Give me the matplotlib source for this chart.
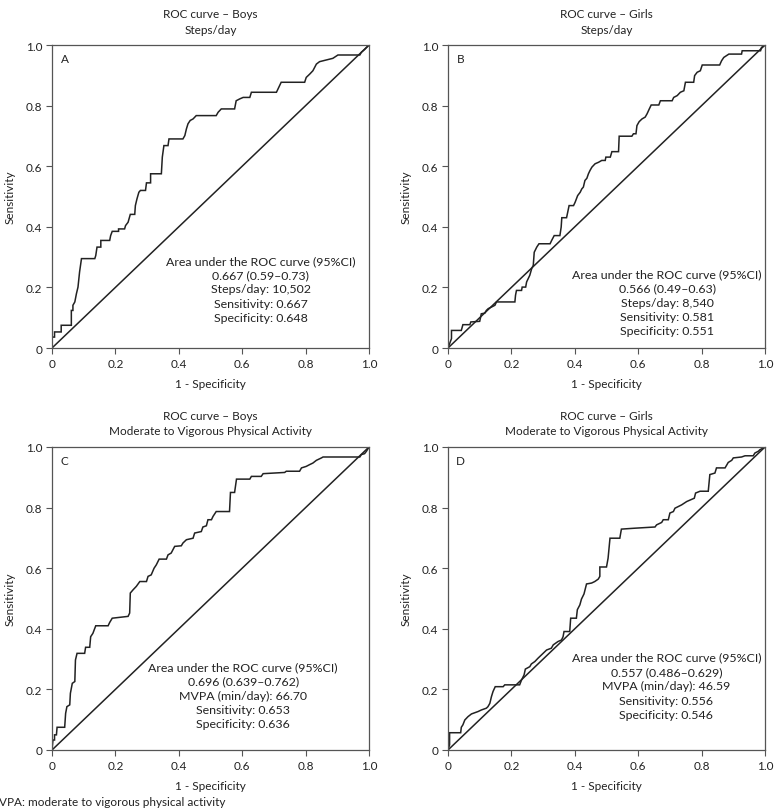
import matplotlib
import matplotlib.pyplot as plt

matplotlib.use("Agg")

plt.rcParams["font.family"] = ["Lato", "DejaVu Sans"]

# ROC curve vertices (1 - specificity, sensitivity)
fpr_a = [0, 0, 0.008, 0.008, 0.029, 0.029, 0.061, 0.061, 0.066, 0.066, 0.072, 0.077, 0.082, 0.087,
         0.093, 0.135, 0.138, 0.142, 0.154, 0.154, 0.182, 0.185, 0.190, 0.210, 0.210, 0.229, 0.232,
         0.240, 0.247, 0.261, 0.263, 0.268, 0.274, 0.279, 0.295, 0.298, 0.311, 0.311, 0.345, 0.348,
         0.353, 0.366, 0.369, 0.413, 0.419, 0.424, 0.429, 0.436, 0.445, 0.455, 0.518, 0.524, 0.534,
         0.576, 0.581, 0.592, 0.603, 0.624, 0.629, 0.708, 0.713, 0.723, 0.797, 0.802, 0.813, 0.823,
         0.834, 0.844, 0.886, 0.902, 0.971, 0.976, 0.986, 1]
tpr_a = [0, 0.036, 0.036, 0.053, 0.053, 0.075, 0.075, 0.124, 0.124, 0.141, 0.152, 0.179, 0.201, 0.251,
         0.295, 0.295, 0.305, 0.333, 0.333, 0.355, 0.355, 0.371, 0.385, 0.385, 0.393, 0.393, 0.404,
         0.415, 0.441, 0.441, 0.470, 0.492, 0.514, 0.520, 0.520, 0.545, 0.545, 0.575, 0.575, 0.630,
         0.668, 0.668, 0.690, 0.690, 0.701, 0.723, 0.740, 0.751, 0.756, 0.767, 0.767, 0.778, 0.789,
         0.789, 0.816, 0.822, 0.827, 0.827, 0.844, 0.844, 0.855, 0.877, 0.877, 0.893, 0.904, 0.915,
         0.937, 0.945, 0.956, 0.967, 0.967, 0.976, 0.985, 1]

fpr_b = [0, 0.005, 0.011, 0.011, 0.042, 0.047, 0.069, 0.072, 0.100, 0.103, 0.105, 0.116, 0.121, 0.127,
         0.137, 0.148, 0.153, 0.211, 0.213, 0.216, 0.232, 0.234, 0.245, 0.248, 0.253, 0.258, 0.264,
         0.269, 0.272, 0.280, 0.287, 0.322, 0.327, 0.335, 0.353, 0.357, 0.359, 0.374, 0.382, 0.396,
         0.401, 0.409, 0.417, 0.422, 0.427, 0.432, 0.438, 0.443, 0.448, 0.454, 0.464, 0.475, 0.485,
         0.496, 0.498, 0.512, 0.517, 0.538, 0.540, 0.580, 0.585, 0.593, 0.596, 0.603, 0.612, 0.622,
         0.628, 0.635, 0.641, 0.665, 0.670, 0.707, 0.712, 0.723, 0.733, 0.744, 0.749, 0.775, 0.778,
         0.786, 0.796, 0.802, 0.857, 0.863, 0.870, 0.886, 0.926, 0.928, 0.986, 0.989, 1]
tpr_b = [0, 0.014, 0.031, 0.058, 0.058, 0.077, 0.077, 0.086, 0.088, 0.102, 0.113, 0.115, 0.124, 0.130,
         0.135, 0.141, 0.152, 0.152, 0.174, 0.190, 0.190, 0.201, 0.201, 0.218, 0.229, 0.240, 0.262,
         0.273, 0.316, 0.333, 0.344, 0.344, 0.355, 0.371, 0.371, 0.399, 0.430, 0.430, 0.470, 0.470,
         0.481, 0.503, 0.514, 0.525, 0.531, 0.553, 0.560, 0.575, 0.586, 0.597, 0.608, 0.613, 0.619,
         0.619, 0.630, 0.630, 0.648, 0.648, 0.699, 0.699, 0.707, 0.707, 0.734, 0.747, 0.756, 0.762,
         0.773, 0.789, 0.802, 0.802, 0.816, 0.816, 0.827, 0.833, 0.844, 0.849, 0.877, 0.877, 0.899,
         0.910, 0.915, 0.934, 0.934, 0.948, 0.959, 0.970, 0.970, 0.981, 0.981, 0.992, 1]

fpr_c = [0, 0.003, 0.008, 0.008, 0.014, 0.016, 0.040, 0.043, 0.047, 0.056, 0.058, 0.064, 0.072, 0.074,
         0.079, 0.103, 0.106, 0.119, 0.122, 0.129, 0.138, 0.177, 0.182, 0.190, 0.240, 0.245, 0.247,
         0.256, 0.266, 0.277, 0.298, 0.303, 0.313, 0.322, 0.329, 0.338, 0.361, 0.366, 0.376, 0.387,
         0.408, 0.413, 0.424, 0.445, 0.450, 0.471, 0.476, 0.487, 0.492, 0.503, 0.508, 0.518, 0.560,
         0.563, 0.576, 0.582, 0.624, 0.629, 0.660, 0.666, 0.734, 0.739, 0.781, 0.787, 0.802, 0.813,
         0.823, 0.834, 0.850, 0.855, 0.971, 0.976, 0.986, 0.992, 1]
tpr_c = [0, 0.033, 0.033, 0.050, 0.050, 0.075, 0.075, 0.121, 0.143, 0.149, 0.187, 0.220, 0.226, 0.297,
         0.319, 0.319, 0.339, 0.339, 0.374, 0.385, 0.410, 0.410, 0.421, 0.435, 0.441, 0.452, 0.518,
         0.529, 0.540, 0.556, 0.556, 0.573, 0.578, 0.600, 0.611, 0.630, 0.630, 0.644, 0.650, 0.672,
         0.674, 0.683, 0.694, 0.699, 0.716, 0.721, 0.736, 0.740, 0.760, 0.760, 0.771, 0.787, 0.787,
         0.850, 0.850, 0.894, 0.894, 0.903, 0.903, 0.912, 0.916, 0.920, 0.920, 0.931, 0.936, 0.942,
         0.947, 0.956, 0.964, 0.967, 0.967, 0.975, 0.978, 0.986, 1]

fpr_d = [0, 0.005, 0.005, 0.040, 0.042, 0.047, 0.053, 0.063, 0.074, 0.095, 0.105, 0.121, 0.126, 0.132,
         0.137, 0.142, 0.149, 0.174, 0.179, 0.226, 0.232, 0.240, 0.244, 0.258, 0.263, 0.274, 0.284,
         0.300, 0.311, 0.326, 0.332, 0.347, 0.358, 0.363, 0.366, 0.384, 0.387, 0.405, 0.408, 0.416,
         0.421, 0.429, 0.437, 0.453, 0.463, 0.474, 0.479, 0.479, 0.500, 0.505, 0.511, 0.542, 0.547,
         0.589, 0.653, 0.658, 0.674, 0.679, 0.695, 0.700, 0.711, 0.716, 0.737, 0.753, 0.777, 0.781,
         0.795, 0.821, 0.826, 0.842, 0.847, 0.874, 0.884, 0.895, 0.900, 0.926, 0.937, 0.963, 0.968,
         0.979, 0.984, 1]
tpr_d = [0, 0.017, 0.057, 0.057, 0.075, 0.083, 0.099, 0.110, 0.119, 0.127, 0.132, 0.138, 0.143, 0.154,
         0.176, 0.193, 0.209, 0.209, 0.215, 0.215, 0.231, 0.248, 0.267, 0.275, 0.284, 0.292, 0.303,
         0.319, 0.330, 0.336, 0.347, 0.358, 0.363, 0.374, 0.391, 0.391, 0.435, 0.435, 0.463, 0.479,
         0.498, 0.515, 0.548, 0.551, 0.556, 0.564, 0.573, 0.604, 0.604, 0.633, 0.699, 0.699, 0.729,
         0.732, 0.736, 0.743, 0.751, 0.760, 0.760, 0.782, 0.787, 0.798, 0.809, 0.820, 0.831, 0.848,
         0.854, 0.854, 0.909, 0.914, 0.931, 0.931, 0.949, 0.956, 0.964, 0.967, 0.971, 0.971, 0.980,
         0.986, 0.991, 1]

titles = [
    "ROC curve – Boys\nSteps/day",
    "ROC curve – Girls\nSteps/day",
    "ROC curve – Boys\nModerate to Vigorous Physical Activity",
    "ROC curve – Girls\nModerate to Vigorous Physical Activity",
]
letters = ["A", "B", "C", "D"]
notes = [
    ["Area under the ROC curve (95%CI)", "0.667 (0.59–0.73)", "Steps/day: 10,502",
     "Sensitivity: 0.667", "Specificity: 0.648"],
    ["Area under the ROC curve (95%CI)", "0.566 (0.49–0.63)", "Steps/day: 8,540",
     "Sensitivity: 0.581", "Specificity: 0.551"],
    ["Area under the ROC curve (95%CI)", "0.696 (0.639–0.762)", "MVPA (min/day): 66.70",
     "Sensitivity: 0.653", "Specificity: 0.636"],
    ["Area under the ROC curve (95%CI)", "0.557 (0.486–0.629)", "MVPA (min/day): 46.59",
     "Sensitivity: 0.556", "Specificity: 0.546"],
]
note_x = [0.658, 0.691, 0.603, 0.689]
note_top = [0.289, 0.245, 0.275, 0.306]
curves = [(fpr_a, tpr_a), (fpr_b, tpr_b), (fpr_c, tpr_c), (fpr_d, tpr_d)]

ticks = [0, 0.2, 0.4, 0.6, 0.8, 1.0]
tick_labels = ["0", "0.2", "0.4", "0.6", "0.8", "1.0"]

W, H = 778, 812
fig = plt.figure(figsize=(W / 100, H / 100), dpi=100)
boxes = [(52, 46), (448, 46), (52, 448), (448, 448)]
ink = "#222222"
spine = "#555555"

for i, (x0, y0) in enumerate(boxes):
    ax = fig.add_axes([x0 / W, 1 - (y0 + 303) / H, 317 / W, 303 / H])
    fpr, tpr = curves[i]
    ax.plot([0, 1], [0, 1], color=ink, lw=1.1, solid_capstyle="butt")
    ax.plot(fpr, tpr, color=ink, lw=1.1, solid_joinstyle="miter")
    ax.set_xlim(0, 1)
    ax.set_ylim(0, 1)
    ax.set_xticks(ticks)
    ax.set_xticklabels(tick_labels)
    ax.set_yticks(ticks)
    ax.set_yticklabels(tick_labels)
    ax.tick_params(direction="out", length=4, width=0.8, color=spine,
                   labelsize=8.5, labelcolor=ink, pad=3)
    for s in ax.spines.values():
        s.set_color(spine)
        s.set_linewidth(0.9)
    ax.set_title(titles[i], fontsize=8.5, color=ink, pad=9, linespacing=1.45)
    ax.set_xlabel("1 - Specificity", fontsize=8.5, color=ink, labelpad=7)
    ax.set_ylabel("Sensitivity", fontsize=8.5, color=ink, labelpad=7)
    ax.text(0.04, 0.954, letters[i], transform=ax.transAxes, fontsize=8.5,
            color=ink, ha="center", va="center")
    for j, line in enumerate(notes[i]):
        ax.text(note_x[i], note_top[i] - j * 0.047, line, transform=ax.transAxes,
                fontsize=8.9, color=ink, ha="center", va="center")

fig.text(-0.016, 6 / H, "MVPA: moderate to vigorous physical activity",
         fontsize=8.5, color=ink, ha="left", va="baseline")

fig.savefig("out.png", dpi=100)
plt.close(fig)
